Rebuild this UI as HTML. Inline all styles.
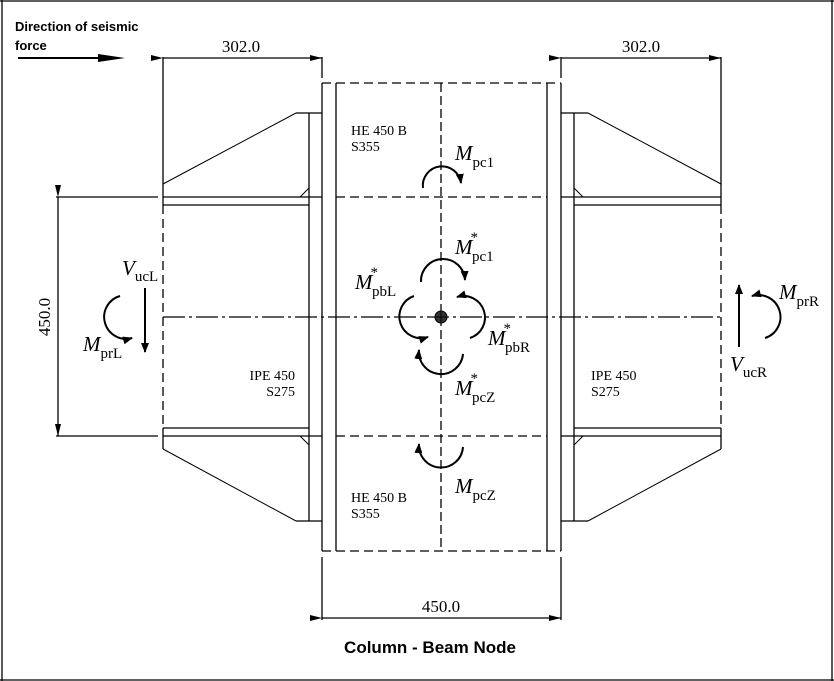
<!DOCTYPE html>
<html><head><meta charset="utf-8"><style>
html,body{margin:0;padding:0;background:#fff}
svg{display:block}
.s{font-family:"Liberation Serif",serif;fill:#000}
.m{font-family:"Liberation Serif",serif;font-style:italic;font-size:21px;fill:#000}
.sub{font-family:"Liberation Serif",serif;font-style:normal;font-size:15px}
.b{font-family:"Liberation Sans",sans-serif;font-weight:bold;fill:#000}
</style></head><body>
<svg width="834" height="681" viewBox="0 0 834 681" xmlns="http://www.w3.org/2000/svg">
<defs>
<marker id="ah" markerWidth="10" markerHeight="8" refX="9" refY="4" orient="auto" markerUnits="userSpaceOnUse"><path d="M0,0 L10,4 L0,8 Z" fill="#000"/></marker>
<marker id="dh" markerWidth="12" markerHeight="6" refX="12" refY="3" orient="auto" markerUnits="userSpaceOnUse"><path d="M0,0 L12,3 L0,6 Z" fill="#000"/></marker>
</defs>
<g fill="none" stroke="#000" stroke-width="1.3">
<!-- frame -->
<line x1="2" y1="0" x2="2" y2="681"/>
<line x1="0" y1="1" x2="834" y2="1"/>
<line x1="0" y1="680" x2="834" y2="680"/>
<line x1="832" y1="0" x2="832" y2="681"/>
<!-- seismic arrow -->
<line x1="18" y1="58" x2="110" y2="58" stroke-width="2"/>
<path d="M98,54 L125,58 L98,62 Z" fill="#000" stroke="none"/>
<!-- top dims -->
<line x1="163" y1="57" x2="163" y2="184"/>
<line x1="322" y1="57" x2="322" y2="78"/>
<line x1="163" y1="58" x2="322" y2="58" marker-start="url(#dh)" marker-end="url(#dh)"/>
<line x1="561" y1="57" x2="561" y2="78"/>
<line x1="721" y1="57" x2="721" y2="184"/>
<line x1="561" y1="58" x2="721" y2="58" marker-start="url(#dh)" marker-end="url(#dh)"/>
<!-- left vertical dim -->
<line x1="56" y1="197" x2="158" y2="197"/>
<line x1="56" y1="436" x2="158" y2="436"/>
<line x1="58" y1="197" x2="58" y2="436" marker-start="url(#dh)" marker-end="url(#dh)"/>
<!-- bottom dim -->
<line x1="322" y1="557" x2="322" y2="620"/>
<line x1="561" y1="557" x2="561" y2="620"/>
<line x1="322" y1="618" x2="561" y2="618" marker-start="url(#dh)" marker-end="url(#dh)"/>
<!-- column -->
<line x1="322" y1="83" x2="322" y2="551"/>
<line x1="336" y1="83" x2="336" y2="551"/>
<line x1="547" y1="83" x2="547" y2="551"/>
<line x1="561" y1="83" x2="561" y2="551"/>
<line x1="322" y1="83" x2="561" y2="83" stroke-dasharray="9,5"/>
<line x1="322" y1="551" x2="561" y2="551" stroke-dasharray="9,5"/>
<line x1="336" y1="197" x2="547" y2="197" stroke-dasharray="9,5"/>
<line x1="336" y1="436" x2="547" y2="436" stroke-dasharray="9,5"/>
<line x1="441" y1="83" x2="441" y2="551" stroke-dasharray="9,4"/>
<!-- centerline -->
<line x1="163" y1="317" x2="721" y2="317" stroke-dasharray="22,4,3,4"/>
<!-- left beam -->
<line x1="163" y1="197" x2="322" y2="197"/>
<line x1="163" y1="205" x2="309" y2="205"/>
<line x1="163" y1="428" x2="309" y2="428"/>
<line x1="163" y1="436" x2="322" y2="436"/>
<line x1="163" y1="184" x2="163" y2="205"/>
<line x1="163" y1="428" x2="163" y2="449"/>
<line x1="163" y1="205" x2="163" y2="428" stroke-dasharray="9,5"/>
<line x1="309" y1="113" x2="309" y2="521"/>
<line x1="296" y1="113" x2="322" y2="113"/>
<line x1="296" y1="521" x2="322" y2="521"/>
<line x1="296" y1="113" x2="163" y2="184" stroke-width="1"/>
<line x1="296" y1="521" x2="163" y2="449" stroke-width="1"/>
<line x1="300" y1="197" x2="309" y2="188" stroke-width="1"/>
<line x1="300" y1="436" x2="309" y2="445" stroke-width="1"/>
<!-- right beam -->
<line x1="561" y1="197" x2="721" y2="197"/>
<line x1="574" y1="205" x2="721" y2="205"/>
<line x1="574" y1="428" x2="721" y2="428"/>
<line x1="561" y1="436" x2="721" y2="436"/>
<line x1="721" y1="184" x2="721" y2="205"/>
<line x1="721" y1="428" x2="721" y2="449"/>
<line x1="721" y1="205" x2="721" y2="428" stroke-dasharray="9,5"/>
<line x1="574" y1="113" x2="574" y2="521"/>
<line x1="561" y1="113" x2="588" y2="113"/>
<line x1="561" y1="521" x2="588" y2="521"/>
<line x1="588" y1="113" x2="721" y2="184" stroke-width="1"/>
<line x1="588" y1="521" x2="721" y2="449" stroke-width="1"/>
<line x1="583" y1="197" x2="574" y2="188" stroke-width="1"/>
<line x1="583" y1="436" x2="574" y2="445" stroke-width="1"/>
</g>
<!-- moments -->
<g fill="none" stroke="#000" stroke-width="2">
<path d="M423,188 A19,19 0 0 1 461,183" marker-end="url(#ah)"/>
<path d="M421,282 A21,21 0 0 1 465,280" marker-end="url(#ah)"/>
<path d="M414,296 A21,21 0 0 0 428,337" marker-end="url(#ah)"/>
<path d="M470,338 A21,21 0 0 0 457,297" marker-end="url(#ah)"/>
<path d="M463,354 A21,21 0 0 1 419,350" marker-end="url(#ah)"/>
<path d="M463,447 A21,21 0 0 1 419,444" marker-end="url(#ah)"/>
<path d="M120,296 A21,21 0 0 0 132,338" marker-end="url(#ah)"/>
<path d="M765,338 A21,21 0 0 0 752,296" marker-end="url(#ah)"/>
<line x1="145" y1="288" x2="145" y2="352" marker-end="url(#ah)"/>
<line x1="739" y1="347" x2="739" y2="285" marker-end="url(#ah)"/>
</g>
<circle cx="441" cy="317" r="6" fill="#333" stroke="#000"/>
<line x1="436" y1="317" x2="446" y2="317" stroke="#000"/>
<line x1="441" y1="312" x2="441" y2="322" stroke="#000"/>
<!-- texts -->
<text class="b" x="15" y="31" font-size="13">Direction of seismic</text>
<text class="b" x="15" y="50" font-size="13">force</text>
<text class="s" x="241" y="52" font-size="17" text-anchor="middle">302.0</text>
<text class="s" x="641" y="52" font-size="17" text-anchor="middle">302.0</text>
<text class="s" x="441" y="612" font-size="17" text-anchor="middle">450.0</text>
<text class="s" x="50" y="317" font-size="17" text-anchor="middle" transform="rotate(-90 50 317)">450.0</text>
<text class="b" x="430" y="653" font-size="17" text-anchor="middle">Column - Beam Node</text>
<text class="s" x="351" y="135" font-size="14">HE 450 B</text>
<text class="s" x="351" y="151" font-size="14">S355</text>
<text class="s" x="351" y="502" font-size="14">HE 450 B</text>
<text class="s" x="351" y="518" font-size="14">S355</text>
<text class="s" x="295" y="380" font-size="14" text-anchor="end">IPE 450</text>
<text class="s" x="295" y="396" font-size="14" text-anchor="end">S275</text>
<text class="s" x="591" y="380" font-size="14">IPE 450</text>
<text class="s" x="591" y="396" font-size="14">S275</text>
<text class="m" x="455" y="160">M<tspan class="sub" dy="7">pc1</tspan></text>
<text class="m" x="455" y="254">M<tspan class="sub" dy="-12" dx="-2">*</tspan><tspan class="sub" dy="19" dx="-6">pc1</tspan></text>
<text class="m" x="355" y="289">M<tspan class="sub" dy="-12" dx="-2">*</tspan><tspan class="sub" dy="19" dx="-6">pbL</tspan></text>
<text class="m" x="488" y="345">M<tspan class="sub" dy="-12" dx="-2">*</tspan><tspan class="sub" dy="19" dx="-6">pbR</tspan></text>
<text class="m" x="455" y="395">M<tspan class="sub" dy="-12" dx="-2">*</tspan><tspan class="sub" dy="19" dx="-6">pcZ</tspan></text>
<text class="m" x="455" y="493">M<tspan class="sub" dy="7">pcZ</tspan></text>
<text class="m" x="122" y="275">V<tspan class="sub" dy="6">ucL</tspan></text>
<text class="m" x="83" y="351">M<tspan class="sub" dy="7">prL</tspan></text>
<text class="m" x="779" y="299">M<tspan class="sub" dy="7">prR</tspan></text>
<text class="m" x="730" y="371">V<tspan class="sub" dy="6">ucR</tspan></text>
</svg>
</body></html>
